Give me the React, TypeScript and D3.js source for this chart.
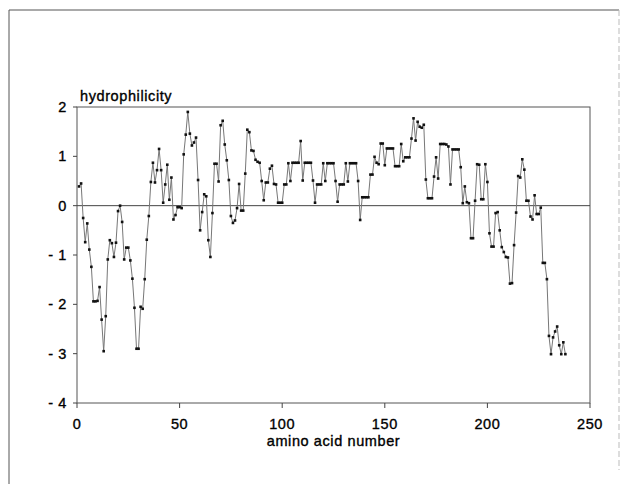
import React from 'react';
import * as d3 from 'd3';

// hydrophilicity per residue, starting at residue 1
const hydrophilicity = [
  0.39, 0.45, -0.25, -0.74, -0.36, -0.89, -1.24, -1.94, -1.94, -1.93,
  -1.65, -2.31, -2.95, -2.24, -1.09, -0.7, -0.76, -1.04, -0.75, -0.11,
  0.0, -0.33, -1.09, -0.85, -0.85, -1.11, -1.48, -2.07, -2.9, -2.9,
  -2.05, -2.09, -1.49, -0.69, -0.21, 0.48, 0.87, 0.47, 0.72, 1.15,
  0.72, 0.06, 0.43, 0.83, 0.12, 0.57, -0.28, -0.19, -0.03, -0.03,
  -0.05, 1.04, 1.44, 1.9, 1.46, 1.22, 1.28, 1.38, 0.52, -0.5,
  -0.13, 0.23, 0.19, -0.7, -1.04, -0.15, 0.85, 0.85, 0.49, 1.63,
  1.72, 1.24, 0.92, 0.52, -0.21, -0.35, -0.3, -0.05, 0.44, -0.1,
  -0.1, 0.65, 1.54, 1.49, 1.12, 1.11, 0.93, 0.89, 0.87, 0.5,
  0.11, 0.47, 0.47, 0.75, 0.81, 0.44, 0.43, 0.06, 0.06, 0.06,
  0.43, 0.43, 0.86, 0.5, 0.87, 0.87, 0.87, 0.87, 1.31, 0.51,
  0.87, 0.87, 0.87, 0.87, 0.51, 0.06, 0.43, 0.43, 0.43, 0.86,
  0.5, 0.86, 0.86, 0.86, 0.86, 0.5, 0.08, 0.43, 0.43, 0.43,
  0.86, 0.49, 0.86, 0.86, 0.86, 0.86, 0.5, -0.29, 0.17, 0.17,
  0.17, 0.17, 0.63, 0.63, 0.99, 0.87, 0.84, 1.26, 1.26, 0.82,
  1.16, 1.16, 1.16, 1.16, 0.8, 0.8, 0.8, 1.25, 0.9, 0.98,
  0.98, 0.98, 1.36, 1.77, 1.32, 1.7, 1.6, 1.58, 1.64, 0.53,
  0.15, 0.15, 0.15, 0.59, 0.98, 0.55, 1.25, 1.25, 1.25, 1.24,
  1.2, 0.43, 1.14, 1.14, 1.14, 1.14, 0.78, 0.05, 0.39, 0.07,
  0.05, -0.66, -0.66, 0.1, 0.84, 0.83, 0.13, 0.13, 0.84, 0.48,
  -0.56, -0.83, -0.83, -0.15, -0.13, -0.5, -0.84, -0.94, -1.04, -1.05,
  -1.58, -1.57, -0.8, -0.14, 0.6, 0.57, 0.94, 0.73, 0.1, 0.1,
  -0.22, -0.28, 0.21, -0.17, -0.17, -0.04, -1.16, -1.16, -1.49, -2.64,
  -3.01, -2.67, -2.55, -2.45, -2.83, -3.01, -2.77, -3.01,
];

const xTicks = [0, 50, 100, 150, 200, 250];
const yTicks = [2, 1, 0, -1, -2, -3, -4];

const W = 626;
const H = 484;
const plot = { left: 77, right: 590, top: 107, bottom: 403 };
const font = "'Liberation Sans', Arial, sans-serif";

// shared text style: a slightly heavy regular face, like the scanned print
const txt = {
  fontFamily: font,
  fontSize: 14.5,
  fill: '#000',
  stroke: '#000',
  strokeWidth: 0.35,
  letterSpacing: 0.6,
};

export default function App() {
  const x = d3.scaleLinear().domain([0, 250]).range([plot.left, plot.right]);
  const y = d3.scaleLinear().domain([-4, 2]).range([plot.bottom, plot.top]);

  const points = hydrophilicity.map((v, i) => ({ res: i + 1, v }));
  const line = d3
    .line<{ res: number; v: number }>()
    .x((d) => x(d.res))
    .y((d) => y(d.v));

  return (
    <svg
      width={W}
      height={H}
      style={{ position: 'absolute', left: 0, top: 0, background: '#fff' }}
    >
      {/* outer frame */}
      <line x1={9} y1={10} x2={619} y2={10} stroke="#555" strokeWidth={1} />
      <line x1={9} y1={10} x2={9} y2={H} stroke="#555" strokeWidth={1} />
      <line x1={619} y1={10} x2={619} y2={470} stroke="#bbb" strokeWidth={1} strokeDasharray="6 3" />

      {/* plot box */}
      <rect
        x={plot.left}
        y={plot.top}
        width={plot.right - plot.left}
        height={plot.bottom - plot.top}
        fill="none"
        stroke="#555"
        strokeWidth={1}
      />
      <line x1={plot.left} x2={plot.right} y1={y(0)} y2={y(0)} stroke="#444" strokeWidth={1} />

      {/* y axis */}
      {yTicks.map((t) => (
        <g key={t}>
          <line x1={plot.left - 4} x2={plot.left} y1={y(t)} y2={y(t)} stroke="#444" />
          <text {...txt} x={plot.left - 10} y={y(t)} dy="0.35em" textAnchor="end">
            {t < 0 ? `- ${-t}` : t}
          </text>
        </g>
      ))}

      {/* x axis */}
      {xTicks.map((t) => (
        <g key={t}>
          <line x1={x(t)} x2={x(t)} y1={plot.bottom} y2={plot.bottom + 5} stroke="#444" />
          <text {...txt} x={x(t)} y={plot.bottom + 26} textAnchor="middle">
            {t}
          </text>
        </g>
      ))}

      <text {...txt} x={80} y={101}>
        hydrophilicity
      </text>
      <text {...txt} x={(plot.left + plot.right) / 2} y={plot.bottom + 43} textAnchor="middle">
        amino acid number
      </text>

      {/* profile */}
      <path d={line(points) ?? ''} fill="none" stroke="#777" strokeWidth={1} />
      {points.map((d) => (
        <rect
          key={d.res}
          x={x(d.res) - 1.3}
          y={y(d.v) - 1.3}
          width={2.6}
          height={2.6}
          fill="#111"
        />
      ))}
    </svg>
  );
}
